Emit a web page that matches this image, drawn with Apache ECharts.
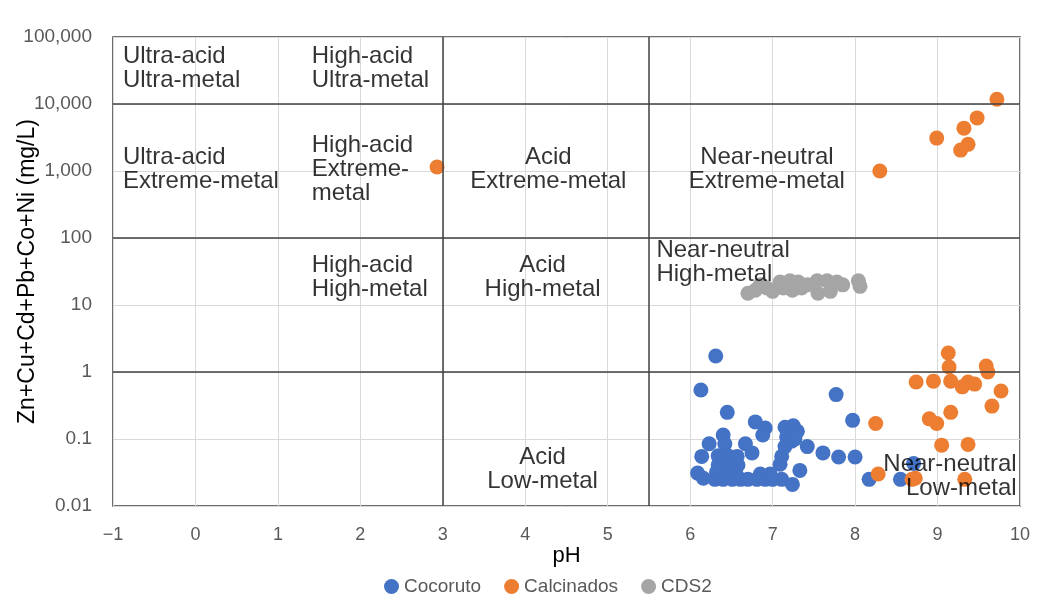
<!DOCTYPE html>
<html>
<head>
<meta charset="utf-8">
<script src="https://cdn.jsdelivr.net/npm/echarts@6/dist/echarts.min.js"></script>
<style>html,body{margin:0;padding:0;background:#fff}#c{width:1051px;height:615px}</style>
</head>
<body>
<div id="c"></div>
<script>
// ---- data ----
var seriesNames = ['Cocoruto', 'Calcinados', 'CDS2'];
var xTicks = [-1, 0, 1, 2, 3, 4, 5, 6, 7, 8, 9, 10];
var yTicks = [0.01, 0.1, 1, 10, 100, 1000, 10000, 100000];

var cocoruto = [
  [6.31, 1.73], [6.13, 0.54], [7.77, 0.46], [6.45, 0.25], [7.97, 0.19],
  [6.79, 0.18], [6.91, 0.146], [6.88, 0.115], [7.15, 0.15], [7.25, 0.157],
  [7.30, 0.13], [7.17, 0.107], [7.23, 0.093], [7.42, 0.077], [7.15, 0.077],
  [6.40, 0.115], [6.42, 0.085], [6.23, 0.085], [6.67, 0.085], [6.75, 0.062],
  [6.57, 0.055], [6.46, 0.056], [6.34, 0.056], [6.14, 0.055], [7.11, 0.055],
  [7.09, 0.042], [7.33, 0.034], [7.61, 0.062], [7.80, 0.054], [8.00, 0.054],
  [6.09, 0.031], [6.16, 0.026], [6.30, 0.025], [6.40, 0.025], [6.51, 0.025],
  [6.61, 0.025], [6.70, 0.025], [6.81, 0.025], [6.91, 0.025], [7.00, 0.025],
  [7.11, 0.025], [6.32, 0.032], [6.44, 0.032], [6.55, 0.032], [6.34, 0.041],
  [6.46, 0.041], [6.58, 0.041], [7.24, 0.021], [8.17, 0.025], [8.55, 0.025],
  [8.71, 0.043], [7.20, 0.12], [7.27, 0.10], [6.85, 0.03], [6.97, 0.03]
];
var calcinados = [
  [2.93, 1150], [8.30, 1000], [9.72, 11800], [8.99, 3100], [9.32, 4360],
  [9.48, 6200], [9.28, 2050], [9.37, 2500],
  [9.13, 1.92], [9.14, 1.19], [9.59, 1.23], [9.61, 1.0], [8.74, 0.71],
  [8.95, 0.73], [9.16, 0.73], [9.30, 0.60], [9.37, 0.71], [9.45, 0.66],
  [9.77, 0.52], [9.66, 0.31], [9.16, 0.25], [8.90, 0.20], [8.99, 0.17],
  [8.25, 0.17], [9.05, 0.081], [9.37, 0.083], [8.28, 0.030], [8.73, 0.026],
  [8.69, 0.025], [9.33, 0.025]
];
var cds2 = [
  [6.70, 15], [6.79, 16.6], [6.93, 17.9], [7.09, 22], [7.21, 23], [7.24, 16.6],
  [7.31, 22], [7.42, 20], [7.54, 23], [7.55, 15], [7.66, 23], [7.70, 16],
  [7.78, 22], [7.85, 20], [8.04, 23], [8.06, 19], [7.00, 16], [7.13, 18],
  [6.85, 20], [7.35, 18]
];
// region boundaries (pH and metal thresholds)
var phBounds = [3, 5.5];
var metalBounds = [10000, 100, 1];
// region labels: [pH anchor, metal anchor, text]
var regionLabels = [
  [-0.88, 34000, 'Ultra-acid\nUltra-metal'],
  [1.41, 34000, 'High-acid\nUltra-metal'],
  [-0.88, 1070, 'Ultra-acid\nExtreme-metal'],
  [1.41, 1070, 'High-acid\nExtreme-\nmetal'],
  [4.28, 1070, 'Acid\nExtreme-metal'],
  [6.93, 1070, 'Near-neutral\nExtreme-metal'],
  [1.41, 26, 'High-acid\nHigh-metal'],
  [4.21, 26, 'Acid\nHigh-metal'],
  [5.59, 43, 'Near-neutral\nHigh-metal'],
  [4.21, 0.035, 'Acid\nLow-metal'],
  [9.96, 0.028, 'Near-neutral\nLow-metal']
];
var regionAlign = ['left', 'left', 'left', 'left', 'center', 'center', 'left', 'center', 'left', 'center', 'right'];

// ---- chart ----
var FONT = '"Liberation Sans", Arial, sans-serif';
var colors = ['#4472C4', '#ED7D31', '#A5A5A5'];
var chart = echarts.init(document.getElementById('c'), null, {renderer: 'canvas'});

function fmtY(v) {
  var n = Number(Number(v).toPrecision(6));
  return n.toLocaleString('en-US', {maximumFractionDigits: 2});
}

var option = {
  animation: false,
  color: colors,
  textStyle: {fontFamily: FONT},
  grid: {left: 113, right: 31, top: 37, bottom: 109, containLabel: false, outerBoundsMode: 'none',
    show: true, borderColor: '#404040', borderWidth: 1.5},
  legend: {
    data: seriesNames,
    top: 572,
    left: 379,
    icon: 'circle',
    itemWidth: 15, itemHeight: 15, itemGap: 23,
    textStyle: {color: '#595959', fontSize: 19, fontFamily: FONT}
  },
  xAxis: {
    type: 'value',
    min: xTicks[0], max: xTicks[xTicks.length - 1], interval: 1,
    name: 'pH', nameLocation: 'middle', nameGap: 39, nameMoveOverlap: false,
    nameTextStyle: {color: '#000', fontSize: 22, fontFamily: FONT},
    axisLine: {show: false},
    axisTick: {show: false},
    axisLabel: {color: '#595959', fontSize: 18, margin: 20, fontFamily: FONT,
      formatter: function (v) { return v < 0 ? '\u2212' + Math.abs(v) : String(v); }},
    splitLine: {show: true, lineStyle: {color: '#D9D9D9', width: 1}}
  },
  yAxis: {
    type: 'log', logBase: 10,
    min: yTicks[0], max: yTicks[yTicks.length - 1],
    name: 'Zn+Cu+Cd+Pb+Co+Ni (mg/L)', nameLocation: 'middle', nameGap: 74, nameMoveOverlap: false,
    nameTextStyle: {color: '#000', fontSize: 23, fontFamily: FONT},
    axisLine: {show: false},
    axisTick: {show: false},
    axisLabel: {color: '#595959', fontSize: 19, margin: 21, fontFamily: FONT, formatter: fmtY},
    splitLine: {show: true, lineStyle: {color: '#D9D9D9', width: 1}}
  },
  series: [
    {name: seriesNames[0], type: 'scatter', symbolSize: 15, data: cocoruto, itemStyle: {color: colors[0], opacity: 1}, z: 3},
    {name: seriesNames[1], type: 'scatter', symbolSize: 15, data: calcinados, itemStyle: {color: colors[1], opacity: 1}, z: 3},
    {name: seriesNames[2], type: 'scatter', symbolSize: 15, data: cds2, itemStyle: {color: colors[2], opacity: 1}, z: 3},
    {
      name: 'regions', type: 'scatter', symbolSize: 0, silent: true, z: 10,
      data: regionLabels.map(function (r, i) {
        return {
          value: [r[0], r[1]],
          label: {
            show: true, position: 'inside', formatter: r[2],
            align: regionAlign[i], verticalAlign: 'middle',
            color: '#000', fontSize: 24, lineHeight: 24, fontFamily: FONT
          }
        };
      }),
      markLine: {
        silent: true, symbol: 'none', animation: false,
        label: {show: false},
        lineStyle: {color: '#404040', width: 1.5, type: 'solid'},
        data: phBounds.map(function (p) { return {xAxis: p}; })
          .concat(metalBounds.map(function (m) { return {yAxis: m}; }))
      }
    }
  ]
};
chart.setOption(option);
</script>
</body>
</html>
